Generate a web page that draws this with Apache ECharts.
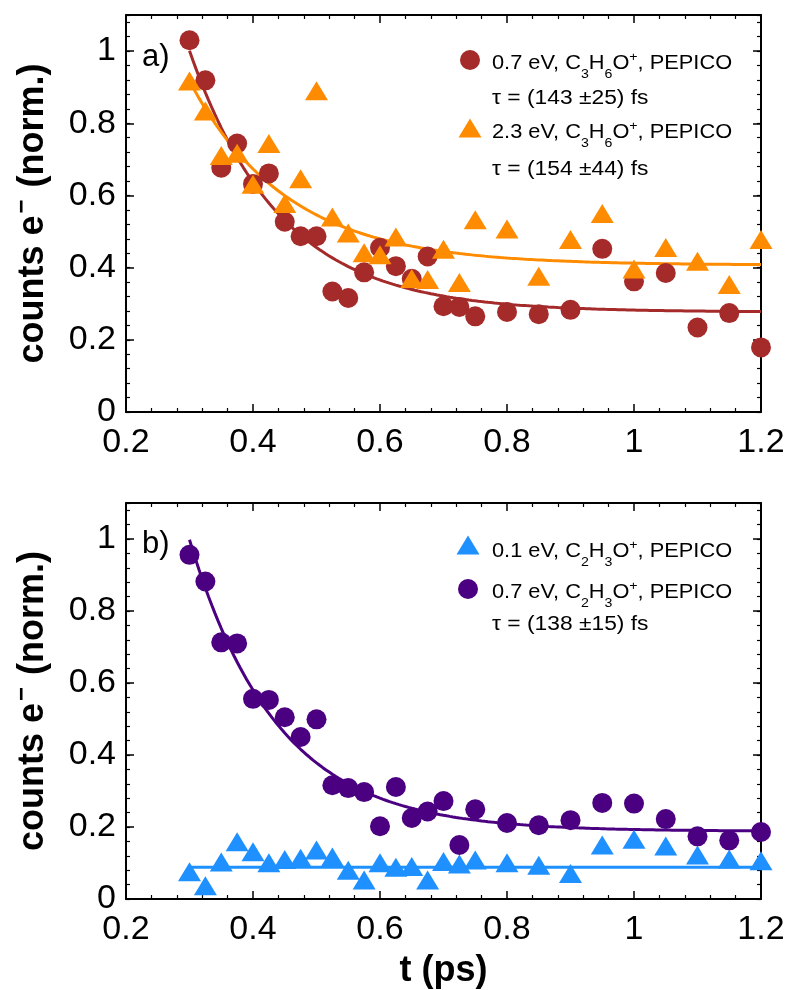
<!DOCTYPE html>
<html>
<head>
<meta charset="utf-8">
<script src="https://cdn.jsdelivr.net/npm/echarts@6/dist/echarts.min.js"></script>
<style>
  html, body { margin: 0; padding: 0; background: #fff; }
  #chart { width: 789px; height: 990px; }
</style>
</head>
<body>
<div id="chart"></div>
<script>
// Delay times (ps) shared by all four traces
const times = [0.3, 0.325, 0.35, 0.375, 0.4, 0.425, 0.45, 0.475, 0.5, 0.525, 0.55, 0.575,
  0.6, 0.625, 0.65, 0.675, 0.7, 0.725, 0.75, 0.8, 0.85, 0.9, 0.95, 1.0, 1.05, 1.1, 1.15, 1.2];

// a) C3H6O+ coincidences
const c3h6o_07eV = [1.03, 0.919, 0.677, 0.744, 0.632, 0.661, 0.527, 0.487, 0.487, 0.334, 0.316, 0.387,
  0.455, 0.404, 0.369, 0.431, 0.293, 0.291, 0.265, 0.277, 0.271, 0.283, 0.452, 0.362, 0.385, 0.234, 0.274, 0.179];
const c3h6o_23eV = [0.917, 0.834, 0.711, 0.717, 0.631, 0.744, 0.578, 0.646, 0.890, 0.540, 0.496, 0.441,
  0.436, 0.485, 0.370, 0.367, 0.451, 0.359, 0.533, 0.507, 0.376, 0.478, 0.550, 0.396, 0.456, 0.418, 0.353, 0.478];

// b) C2H3O+ coincidences
const c2h3o_01eV = [0.076, 0.037, 0.103, 0.159, 0.131, 0.101, 0.110, 0.113, 0.136, 0.117, 0.080, 0.053,
  0.101, 0.088, 0.090, 0.053, 0.104, 0.097, 0.108, 0.101, 0.094, 0.071, 0.150, 0.166, 0.147, 0.122, 0.111, 0.106];
const c2h3o_07eV = [0.956, 0.882, 0.713, 0.710, 0.556, 0.553, 0.505, 0.450, 0.499, 0.316, 0.308, 0.297,
  0.202, 0.311, 0.225, 0.243, 0.272, 0.150, 0.249, 0.211, 0.205, 0.219, 0.267, 0.265, 0.222, 0.174, 0.163, 0.186];

// Exponential fit parameters (tau and its error in fs)
const fitRed    = { tau: 143, err: 25, amp: 0.724, offset: 0.277, t0: 0.3 };
const fitOrange = { tau: 154, err: 44, amp: 0.51,  offset: 0.407, t0: 0.3 };
const fitPurple = { tau: 138, err: 15, amp: 0.81,  offset: 0.188, t0: 0.3 };
const blueLevel = 0.088;

// Axis ticks
const xTicks = [0.2, 0.4, 0.6, 0.8, 1.0, 1.2];
const yTicks = [0, 0.2, 0.4, 0.6, 0.8, 1.0];

const COLORS = { red: '#A52A2A', orange: '#FF8C00', purple: '#4B0082', blue: '#1E90FF' };
const FONT = '"Liberation Sans", Arial, Helvetica, sans-serif';

function decayCurve(p) {
  const pts = [];
  for (let i = 0; i <= 180; i++) {
    const t = p.t0 + i * 0.005;
    pts.push([t, p.amp * Math.exp(-(t - p.t0) / (p.tau / 1000)) + p.offset]);
  }
  return pts;
}
const zip = (vals) => times.map((t, i) => [t, vals[i]]);

const chart = echarts.init(document.getElementById('chart'), null, { renderer: 'canvas' });

const GRIDS = [
  { left: 126, top: 15, width: 635, height: 397 },
  { left: 126, top: 503, width: 635, height: 396 }
];

const lineStyle = { color: '#000', width: 2 };

function xAxes(g, withName) {
  const base = {
    type: 'value', gridIndex: g, min: xTicks[0], max: xTicks[xTicks.length - 1],
    interval: xTicks[1] - xTicks[0],
    axisLine: { show: true, onZero: false, lineStyle },
    axisTick: { show: true, inside: true, length: 8, lineStyle: { color: '#000', width: 1.5 } },
    minorTick: { show: true, splitNumber: 5, length: 4, lineStyle: { color: '#000', width: 1.2 } },
    splitLine: { show: false }
  };
  const bottom = Object.assign({}, base, {
    position: 'bottom',
    axisLabel: { show: true, fontSize: 34, color: '#000', fontFamily: FONT, margin: 14,
      formatter: (v) => String(Number(v.toFixed(2))) }
  });
  if (withName) {
    Object.assign(bottom, {
      name: 't (ps)', nameLocation: 'middle', nameGap: 54,
      nameTextStyle: { fontSize: 36, fontWeight: 'bold', color: '#000', fontFamily: FONT }
    });
  }
  const top = Object.assign({}, base, { position: 'top', axisLabel: { show: false } });
  return [bottom, top];
}

function yAxes(g) {
  const common = {
    type: 'value', gridIndex: g, min: 0, max: 1.1,
    axisLine: { show: true, onZero: false, lineStyle },
    splitLine: { show: false }
  };
  const leftMain = Object.assign({}, common, {
    position: 'left', interval: yTicks[1] - yTicks[0],
    axisTick: { show: true, inside: true, length: 8, lineStyle: { color: '#000', width: 1.5 } },
    axisLabel: { show: true, fontSize: 34, color: '#000', fontFamily: FONT, margin: 10,
      formatter: (v) => (v > 1.05 ? '' : String(Number(v.toFixed(2)))) },
    name: '{b|counts e}{sup|\u2212}{b| (norm.)}', nameLocation: 'middle', nameRotate: 90, nameGap: 70,
    nameTextStyle: {
      color: '#000', fontFamily: FONT,
      rich: {
        b: { fontSize: 36, fontWeight: 'bold', color: '#000', fontFamily: FONT },
        sup: { fontSize: 24, fontWeight: 'bold', color: '#000', fontFamily: FONT, padding: [0, 2, 22, 2] }
      }
    }
  });
  const leftMinor = Object.assign({}, common, {
    position: 'left', interval: 0.04, axisLine: { show: false },
    axisTick: { show: true, inside: true, length: 4, lineStyle: { color: '#000', width: 1.2 } },
    axisLabel: { show: false }
  });
  const rightMain = Object.assign({}, common, {
    position: 'right', interval: yTicks[1] - yTicks[0],
    axisTick: { show: true, inside: true, length: 8, lineStyle: { color: '#000', width: 1.5 } },
    axisLabel: { show: false }
  });
  const rightMinor = Object.assign({}, common, {
    position: 'right', interval: 0.04, axisLine: { show: false },
    axisTick: { show: true, inside: true, length: 4, lineStyle: { color: '#000', width: 1.2 } },
    axisLabel: { show: false }
  });
  return [leftMain, leftMinor, rightMain, rightMinor];
}

function fitLine(data, color, xi, yi) {
  return { type: 'line', data, xAxisIndex: xi, yAxisIndex: yi, showSymbol: false, symbol: 'none',
    lineStyle: { color, width: 3 }, silent: true, z: 2 };
}
function scatter(data, color, symbol, size, xi, yi, z) {
  return { type: 'scatter', data, xAxisIndex: xi, yAxisIndex: yi, symbol, symbolSize: size,
    itemStyle: { color, opacity: 1 }, silent: true, z };
}

// legend helpers (drawn as graphics next to each panel)
const richFormula = {
  n: { fontSize: 20, fontFamily: FONT, color: '#000' },
  sub: { fontSize: 13, fontFamily: FONT, color: '#000', padding: [22, 0, 0, 0] },
  sup: { fontSize: 13, fontFamily: FONT, color: '#000', padding: [0, 0, 12, 0] }
};
function formulaText(x, y, energy, a, b) {
  return { type: 'text', x, y: y - 12, scaleX: 1.09, silent: true,
    style: { text: `{n|${energy}, C}{sub|${a}}{n|H}{sub|${b}}{n|O}{sup|+}{n|, PEPICO}`,
      rich: richFormula, verticalAlign: 'top' } };
}
function tauText(x, y, p) {
  return { type: 'text', x, y, scaleX: 1.14, silent: true,
    style: { text: `\u03C4 = (${p.tau} \u00B1${p.err}) fs`, fontSize: 20, fontFamily: FONT, fill: '#000',
      verticalAlign: 'middle' } };
}
function circleMark(cx, cy, color) {
  return { type: 'circle', shape: { cx, cy, r: 10 }, style: { fill: color }, silent: true };
}
function triMark(cx, cy, color) {
  return { type: 'polygon', shape: { points: [[cx, cy - 9.5], [cx + 11.5, cy + 9.5], [cx - 11.5, cy + 9.5]] },
    style: { fill: color }, silent: true };
}

const option = {
  animation: false,
  backgroundColor: '#fff',
  grid: GRIDS,
  xAxis: [...xAxes(0, false), ...xAxes(1, true)],
  yAxis: [...yAxes(0), ...yAxes(1)],
  series: [
    // panel a
    fitLine(decayCurve(fitRed), COLORS.red, 0, 0),
    fitLine(decayCurve(fitOrange), COLORS.orange, 0, 0),
    scatter(zip(c3h6o_07eV), COLORS.red, 'circle', 20, 0, 0, 3),
    scatter(zip(c3h6o_23eV), COLORS.orange, 'triangle', [23, 19], 0, 0, 4),
    // panel b
    fitLine(decayCurve(fitPurple), COLORS.purple, 2, 4),
    fitLine([[0.3, blueLevel], [1.2, blueLevel]], COLORS.blue, 2, 4),
    scatter(zip(c2h3o_01eV), COLORS.blue, 'triangle', [23, 19], 2, 4, 3),
    scatter(zip(c2h3o_07eV), COLORS.purple, 'circle', 20, 2, 4, 4)
  ],
  graphic: [
    { type: 'text', left: 142, top: 42, silent: true,
      style: { text: 'a)', fontSize: 31, fontFamily: FONT, fill: '#000' } },
    { type: 'text', left: 142, top: 529, silent: true,
      style: { text: 'b)', fontSize: 31, fontFamily: FONT, fill: '#000' } },
    circleMark(470, 60, COLORS.red),
    formulaText(492, 58, '0.7 eV', '3', '6'),
    tauText(492, 98, fitRed),
    triMark(470, 128, COLORS.orange),
    formulaText(492, 127, '2.3 eV', '3', '6'),
    tauText(492, 169, fitOrange),
    triMark(468, 545, COLORS.blue),
    formulaText(492, 546, '0.1 eV', '2', '3'),
    circleMark(468, 589, COLORS.purple),
    formulaText(492, 587, '0.7 eV', '2', '3'),
    tauText(492, 624, fitPurple)
  ]
};

chart.setOption(option);
</script>
</body>
</html>
